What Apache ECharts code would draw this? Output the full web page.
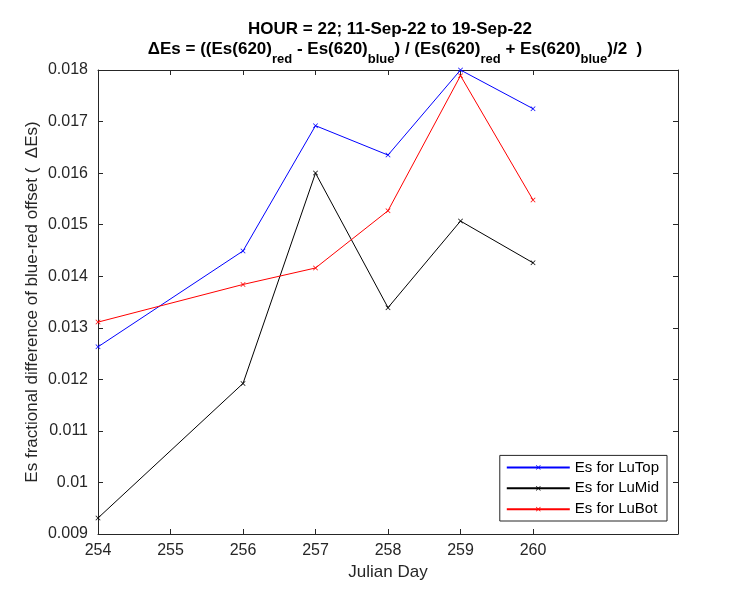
<!DOCTYPE html>
<html>
<head>
<meta charset="utf-8">
<script src="https://cdn.jsdelivr.net/npm/echarts@6/dist/echarts.min.js"></script>
<style>html,body{margin:0;padding:0;background:#fff}#c{width:750px;height:600px}</style>
</head>
<body>
<div id="c"></div>
<script>
var days = [254, 256, 257, 258, 259, 260];
var luTop = [0.01263, 0.01449, 0.01692, 0.01635, 0.01800, 0.01725];
var luMid = [0.00931, 0.01192, 0.01600, 0.01339, 0.01507, 0.01426];
var luBot = [0.01311, 0.01384, 0.01416, 0.01527, 0.01789, 0.01548];
var xTicks = [254, 255, 256, 257, 258, 259, 260];
var seriesNames = ['Es for LuTop', 'Es for LuMid', 'Es for LuBot'];
var seriesColors = ['#0000ff', '#000000', '#ff0000'];

var FONT = '"Liberation Sans", Arial, Helvetica, sans-serif';
var AX = '#262626';
var cross = 'path://M0,1L1,0L5,4L9,0L10,1L6,5L10,9L9,10L5,6L1,10L0,9L4,5Z';

function pairs(xs, ys) { return xs.map(function (x, i) { return [x, ys[i]]; }); }
function mk(name, vals, color) {
  return {
    name: name, type: 'line', data: pairs(days, vals),
    symbol: cross, symbolSize: 5, showSymbol: true,
    lineStyle: { color: color, width: 1 },
    itemStyle: { color: color },
    emphasis: { disabled: true }, animation: false
  };
}
var chart = echarts.init(document.getElementById('c'));
var sub = { fontSize: 13, fontWeight: 'bold', color: '#000', fontFamily: FONT, lineHeight: 13, verticalAlign: 'bottom' };
var main = { fontSize: 17, fontWeight: 'bold', color: '#000', fontFamily: FONT, lineHeight: 25, verticalAlign: 'top' };
chart.setOption({
  animation: false,
  backgroundColor: '#fff',
  title: [
    { text: 'HOUR = 22; 11-Sep-22 to 19-Sep-22', left: 385, textAlign: 'center', top: 16,
      textStyle: { fontSize: 17, fontWeight: 'bold', color: '#000', fontFamily: FONT } },
    { text: '{m|ΔEs = ((Es(620)}{s|red}{m| - Es(620)}{s|blue}{m|) / (Es(620)}{s|red}{m| + Es(620)}{s|blue}{m|)/2  )}',
      left: 390, textAlign: 'center', top: 36,
      textStyle: { rich: { m: main, s: sub } } }
  ],
  legend: {
    orient: 'vertical', right: 83, bottom: 79,
    data: seriesNames,
    backgroundColor: '#fff', borderColor: AX, borderWidth: 1,
    padding: [4.5, 8, 4.3, 6], itemWidth: 63, itemHeight: 6, itemGap: 5.9,
    textStyle: { fontSize: 15, color: '#000', fontFamily: FONT }
  },
  grid: { left: 98, right: 72, top: 70, bottom: 66, containLabel: false },
  xAxis: [
    { type: 'value', min: 254, max: 262, interval: 1, position: 'bottom',
      name: 'Julian Day', nameLocation: 'middle', nameGap: 30,
      nameTextStyle: { fontSize: 17, color: AX, fontFamily: FONT },
      axisLine: { show: true, lineStyle: { color: AX, width: 1 } },
      axisTick: { show: true, inside: true, length: 5, lineStyle: { color: AX }, customValues: xTicks },
      axisLabel: { fontSize: 16, color: AX, fontFamily: FONT, margin: 9, customValues: xTicks },
      splitLine: { show: false } },
    { type: 'value', min: 254, max: 262, interval: 1, position: 'top',
      axisLine: { show: true, lineStyle: { color: AX, width: 1 } },
      axisTick: { show: true, inside: true, length: 5, lineStyle: { color: AX }, customValues: xTicks },
      axisLabel: { show: false }, splitLine: { show: false } }
  ],
  yAxis: [
    { type: 'value', min: 0.009, max: 0.018, interval: 0.001, position: 'left',
      name: 'Es fractional difference of blue-red offset (  ΔEs)', nameLocation: 'middle', nameGap: 57,
      nameMoveOverlap: false,
      nameTextStyle: { fontSize: 17, color: AX, fontFamily: FONT },
      axisLine: { show: true, lineStyle: { color: AX, width: 1 } },
      axisTick: { show: true, inside: true, length: 5, lineStyle: { color: AX } },
      axisLabel: { fontSize: 16, color: AX, fontFamily: FONT, margin: 10,
        formatter: function (v) { return String(Number(v.toFixed(3))); } },
      splitLine: { show: false } },
    { type: 'value', min: 0.009, max: 0.018, interval: 0.001, position: 'right',
      axisLine: { show: true, lineStyle: { color: AX, width: 1 } },
      axisTick: { show: true, inside: true, length: 5, lineStyle: { color: AX } },
      axisLabel: { show: false }, splitLine: { show: false } }
  ],
  series: [
    mk(seriesNames[0], luTop, seriesColors[0]),
    mk(seriesNames[1], luMid, seriesColors[1]),
    mk(seriesNames[2], luBot, seriesColors[2])
  ]
});
</script>
</body>
</html>
